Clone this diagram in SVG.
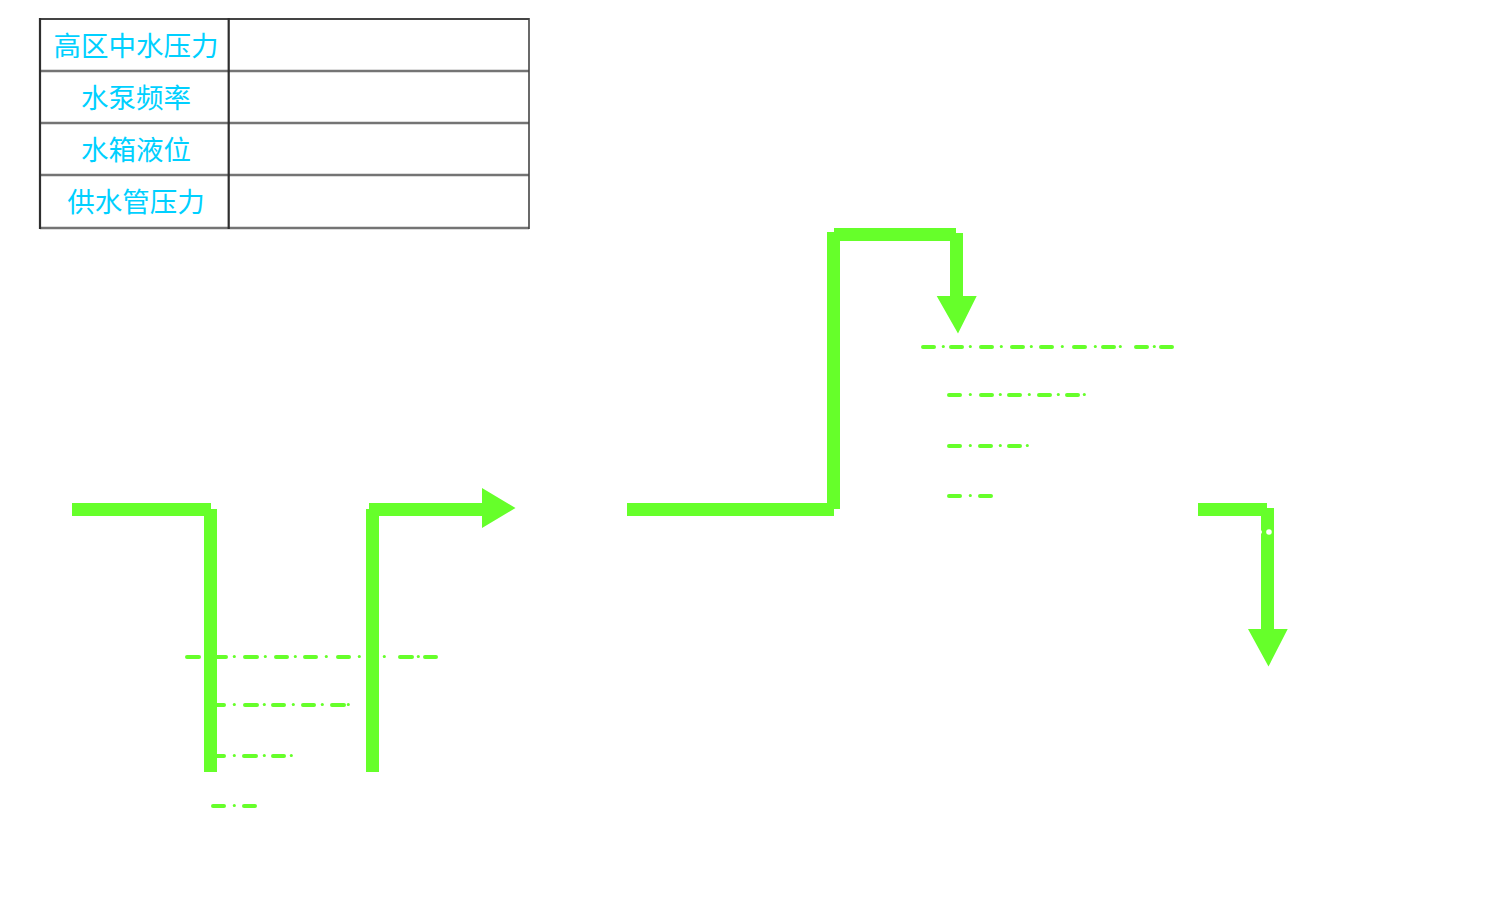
<svg xmlns="http://www.w3.org/2000/svg" width="1487" height="906" viewBox="0 0 1487 906">
<style>
.lbl{font-family:"Noto Sans CJK SC","Noto Sans",sans-serif;font-size:27.5px;fill:#00d0ff;text-anchor:middle}
.h{stroke:#747474;stroke-width:2.400;fill:none}
.top{stroke:#444;stroke-width:2;fill:none}
.v{stroke:#2e2e2e;stroke-width:2.200;fill:none}
.v2{stroke:#444;stroke-width:1.600;fill:none}
.dash{stroke:#66ff2a;stroke-width:4;stroke-linecap:round;fill:none}
.dot{stroke:#66ff2a;stroke-width:3.200;stroke-linecap:round;fill:none}
.pipe{fill:#66ff2a}
</style>
<rect width="1487" height="906" fill="#fff"/>
<g id="table">
<path class="h" d="M40 71H529M40 123H529M40 175H529M40 228H529"/>
<path class="top" d="M40 19H529"/>
<path class="v" d="M40 18V229M228.700 18V229"/>
<path class="v2" d="M529 18V229"/>
</g>
<g id="label-high-pressure"><text class="lbl" x="136" y="56">高区中水压力</text></g>
<g id="label-pump-frequency"><text class="lbl" x="136" y="108">水泵频率</text></g>
<g id="label-tank-level"><text class="lbl" x="136" y="160">水箱液位</text></g>
<g id="label-supply-pressure"><text class="lbl" x="136" y="212">供水管压力</text></g>
<g id="level-lines-left">
<path class="dash" d="M187 657H199M211 657H226M245 657H257M276 657H287M305 657H316M338 657H349M400 657H412M425 657H436M211 705H224M245 705H257M273 705H284M303 705H314M332 705H344M211 756H224M244 756H256M273 756H284M213 806H224M244 806H255"/>
<path class="dot" d="M234.300 656.500h.01M265.300 656.500h.01M295.300 656.500h.01M326.300 656.500h.01M359.300 656.500h.01M384.300 656.500h.01M418.300 656.500h.01M234.300 704.500h.01M264.300 704.500h.01M293.300 704.500h.01M322.300 704.500h.01M348.300 704.500h.01M234.300 755.500h.01M264.300 755.500h.01M291.300 755.500h.01M234.300 805.500h.01"/>
</g>
<g id="level-lines-right">
<path class="dash" d="M923 347H934M951 347H962M981 347H992M1012 347H1023M1041 347H1052M1074 347H1085M1103 347H1114M1136 347H1147M1161 347H1172M949 395H960M981 395H992M1009 395H1020M1039 395H1050M1067 395H1078M949 446H960M980 446H991M1009 446H1020M949 496H960M980 496H991"/>
<path class="dot" d="M943.300 346.500h.01M970.300 346.500h.01M1001.300 346.500h.01M1031.300 346.500h.01M1062.300 346.500h.01M1095.300 346.500h.01M1120.300 346.500h.01M1154.300 346.500h.01M970.300 394.500h.01M1000.300 394.500h.01M1029.300 394.500h.01M1058.300 394.500h.01M1084.300 394.500h.01M970.300 445.500h.01M1000.300 445.500h.01M1027.300 445.500h.01M970.300 495.500h.01"/>
</g>
<g id="connectors">
<path class="pipe" d="M72 503H211V516H72ZM204 509H217V772H204ZM366 509H379V772H366ZM369 503H482V488L515.500 508L482 528V516H369Z"/>
<path class="pipe" d="M627 503H834V516H627ZM827 232H840V509H827ZM834 228H956V241H834ZM950 233H963V296H976.700L958 333.500L936.700 296H950Z"/>
<path class="pipe" d="M1198 503H1267V516H1198ZM1261 508H1274V629H1287.700L1268.500 666.500L1248 629H1261Z"/>
<circle cx="1269" cy="532" r="2.800" fill="#fff"/>
<circle cx="1260" cy="532" r="2" fill="#fff"/>
</g>
</svg>
